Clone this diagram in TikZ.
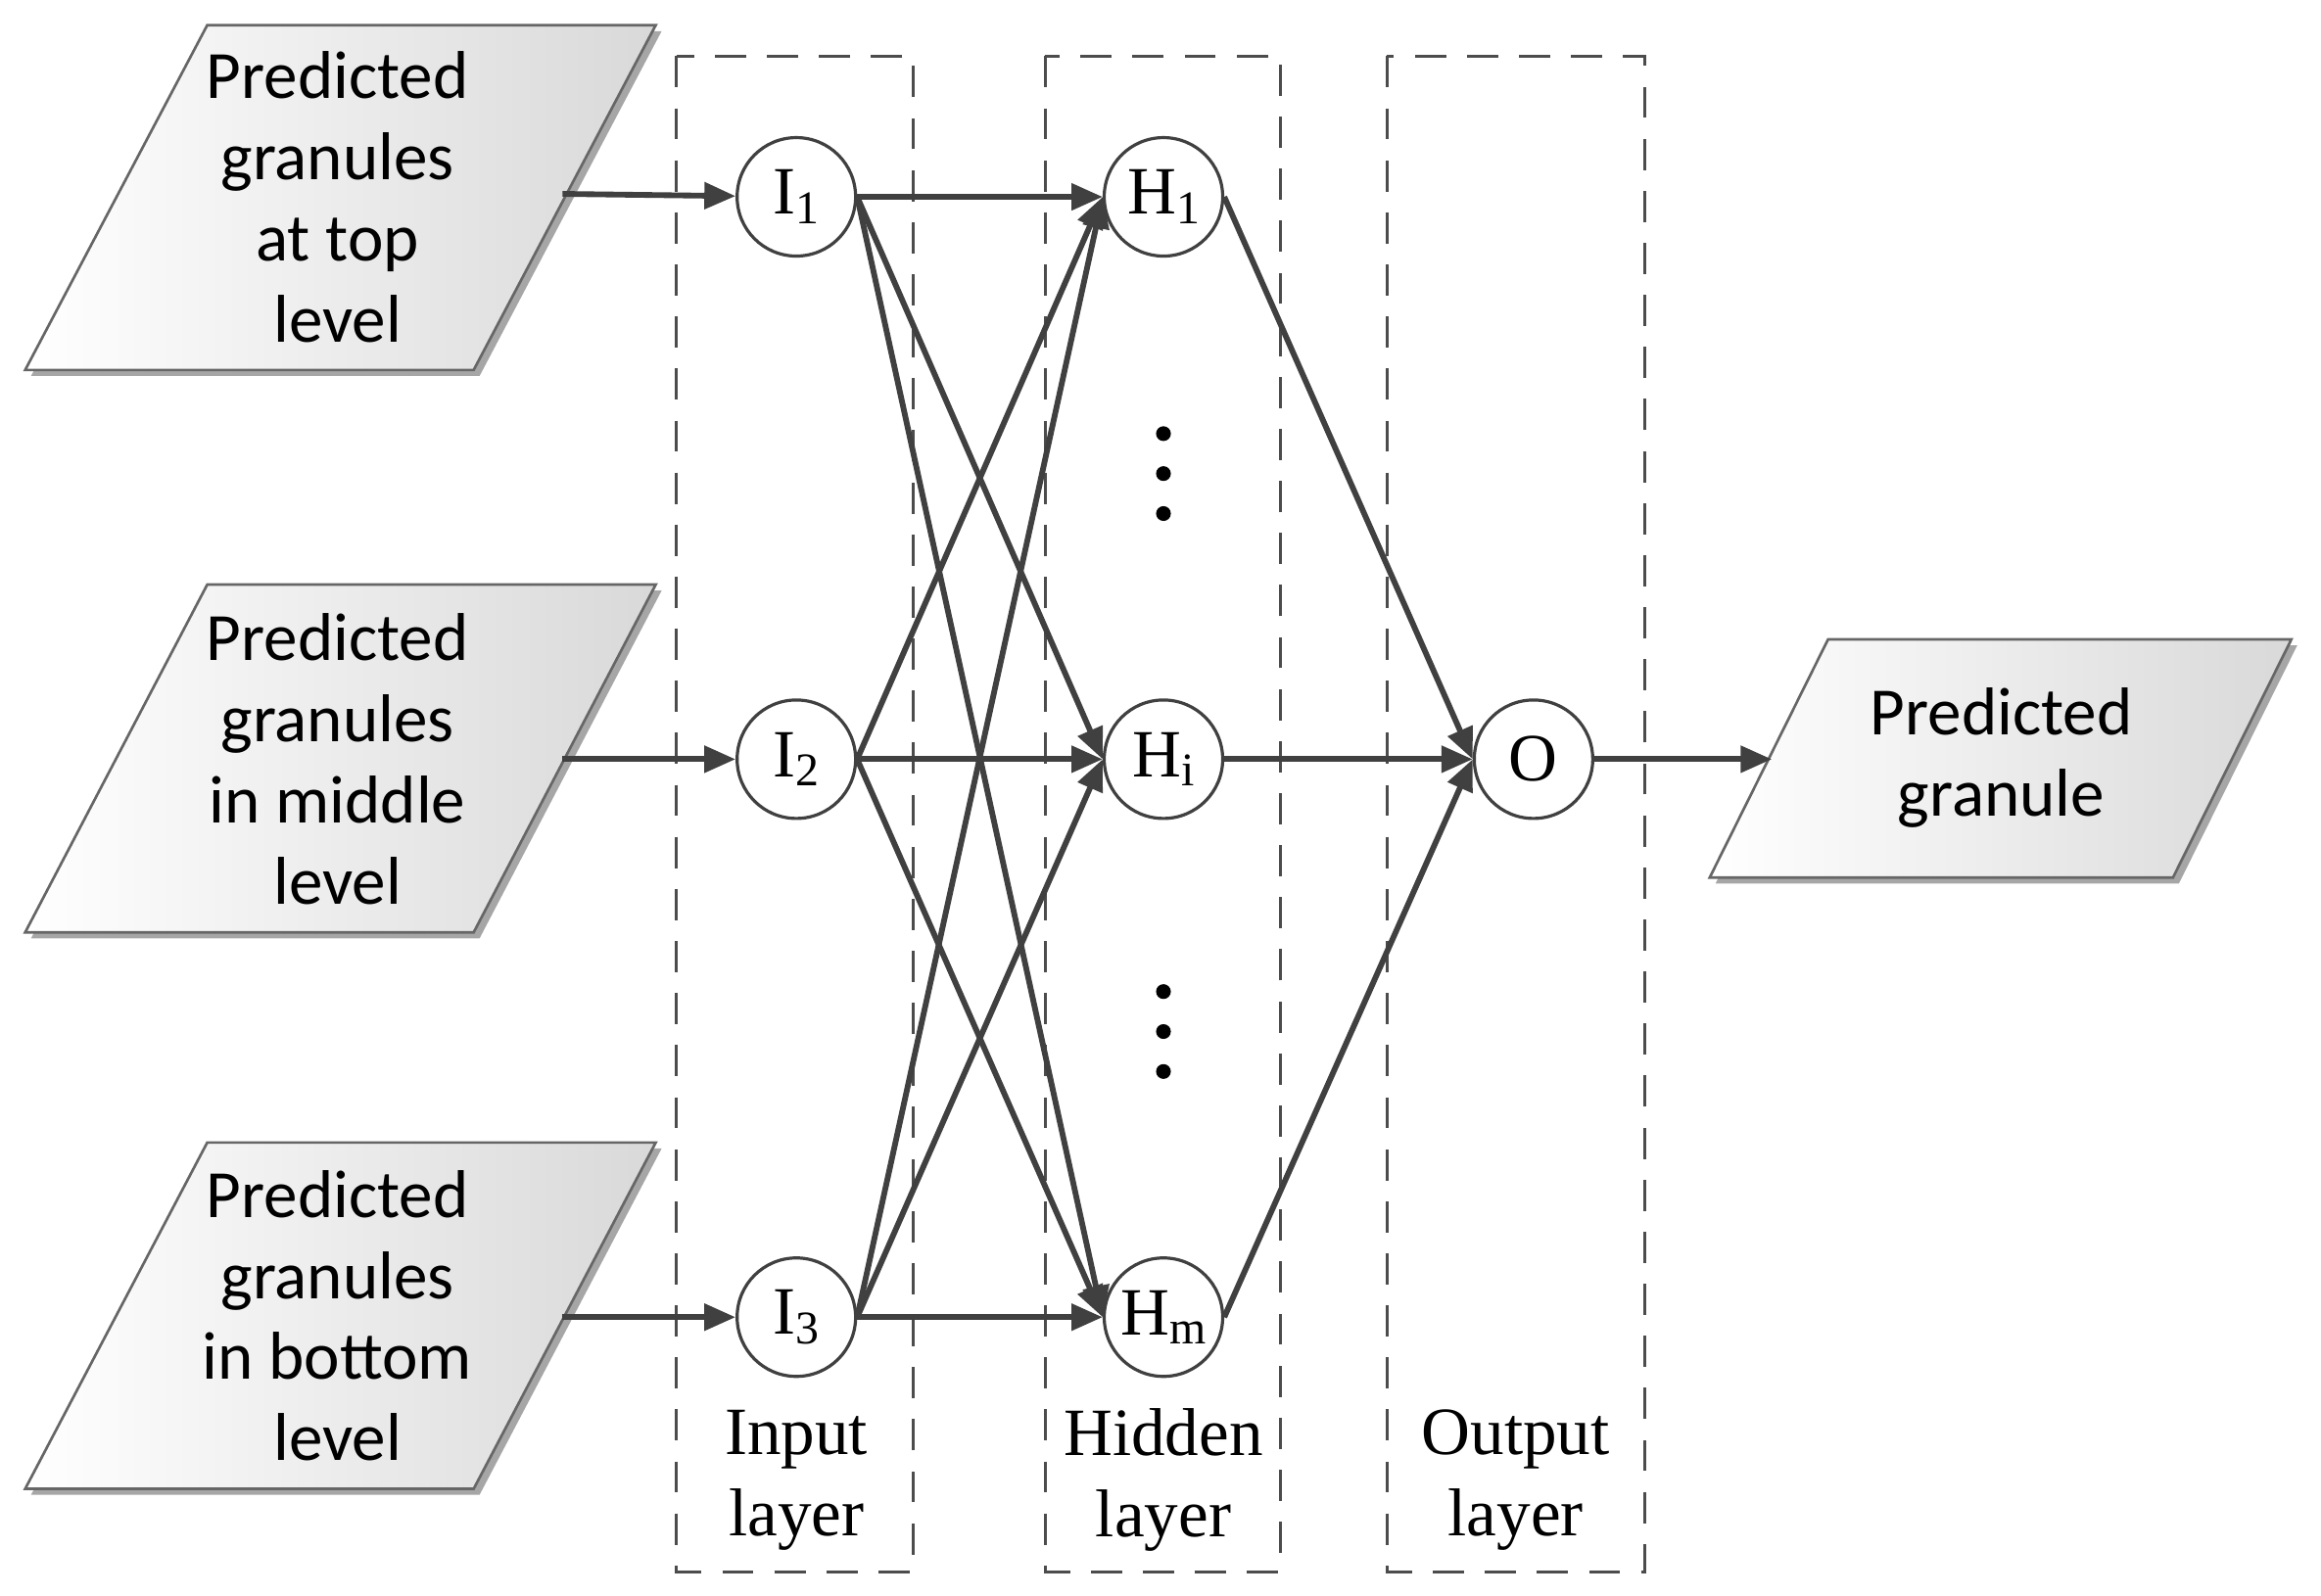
\documentclass[tikz,border=0pt]{standalone}
\usepackage{fontspec}
\setmainfont{Liberation Serif}
\newfontfamily\calfont{Carlito}
\usetikzlibrary{arrows.meta}

\tikzset{
	neuron/.style={draw=black!75, circle, fill=white, minimum size=0.8cm, inner sep=0pt, line width=0.6pt, font=\fontsize{13}{13}\selectfont},
	link/.style={-{Triangle[length=6pt,width=5pt]}, draw=black!75, line width=1.1pt},
	layer/.style={draw=black!70, dash pattern=on 6pt off 4pt, line width=0.6pt},
	datatext/.style={align=center, font=\calfont\fontsize{13}{15.6}\selectfont},
	laytext/.style={align=center, font=\fontsize{13}{15.6}\selectfont}
}
\newcommand{\databox}[5]{% x0 y0 dx width height
	\fill[black!35] (#1+4,#2+4) -- (#1+#3+4,#2-#5+4) -- (#1+#3+#4+4,#2-#5+4) -- (#1+#4+4,#2+4) -- cycle;
	\shade[left color=white, right color=black!15, draw=black!60, line width=0.5pt] (#1,#2) -- (#1+#3,#2-#5) -- (#1+#3+#4,#2-#5) -- (#1+#4,#2) -- cycle;
}
\newcommand{\sub}[1]{\raisebox{-0.3ex}{\fontsize{9}{9}\selectfont #1}}

\begin{document}
\begin{tikzpicture}[x=0.01cm, y=-0.01cm]
	\useasboundingbox (0,0) rectangle (1568,1078);
	
	% layer boxes
	\draw[layer] (457,38) rectangle (617,1062);
	\draw[layer] (706,38) rectangle (865,1062);
	\draw[layer] (937,38) rectangle (1111,1062);
	
	% data boxes
	\databox{17}{250}{123}{303}{233}
	\databox{17}{630}{123}{303}{235}
	\databox{17}{1006}{123}{303}{234}
	\databox{1155}{593}{80}{313}{161}
	\node[datatext] (P1) at (228,133) {Predicted\\granules\\at top\\level};
	\node[datatext] (P2) at (228,513) {Predicted\\granules\\in middle\\level};
	\node[datatext] (P3) at (228,889) {Predicted\\granules\\in bottom\\level};
	\node[datatext] (PO) at (1352,512) {Predicted\\granule};
	\coordinate (P1r) at (380,131);
	\coordinate (P2r) at (380,513);
	\coordinate (P3r) at (380,890);
	\coordinate (POl) at (1197,513);
	
	% neurons
	\node[neuron] (I1) at (538,133) {I\sub{1}};
	\node[neuron] (I2) at (538,513) {I\sub{2}};
	\node[neuron] (I3) at (538,890) {I\sub{3}};
	\node[neuron] (H1) at (786,133) {H\sub{1}};
	\node[neuron] (Hi) at (786,513) {H\sub{i}};
	\node[neuron] (Hm) at (786,890) {H\sub{m}};
	\node[neuron] (O) at (1036,513) {O};
	
	\foreach \y in {293,320,347,670,697,724}
		\fill (786,\y) circle (5);
	
	% connections
	\draw[link] (P1r) -- (I1);
	\draw[link] (P2r) -- (I2);
	\draw[link] (P3r) -- (I3);
	\foreach \i in {I1,I2,I3}
		\foreach \h in {H1,Hi,Hm}
			\draw[link] (\i.east) -- (\h.west);
	\foreach \h in {H1,Hi,Hm}
		\draw[link] (\h.east) -- (O.west);
	\draw[link] (O) -- (POl);
	
	% layer names
	\node[laytext] (Lin) at (538,1000) {Input\\layer};
	\node[laytext] (Lhid) at (786,1000) {Hidden\\layer};
	\node[laytext] (Lout) at (1024,1000) {Output\\layer};
\end{tikzpicture}
\end{document}
